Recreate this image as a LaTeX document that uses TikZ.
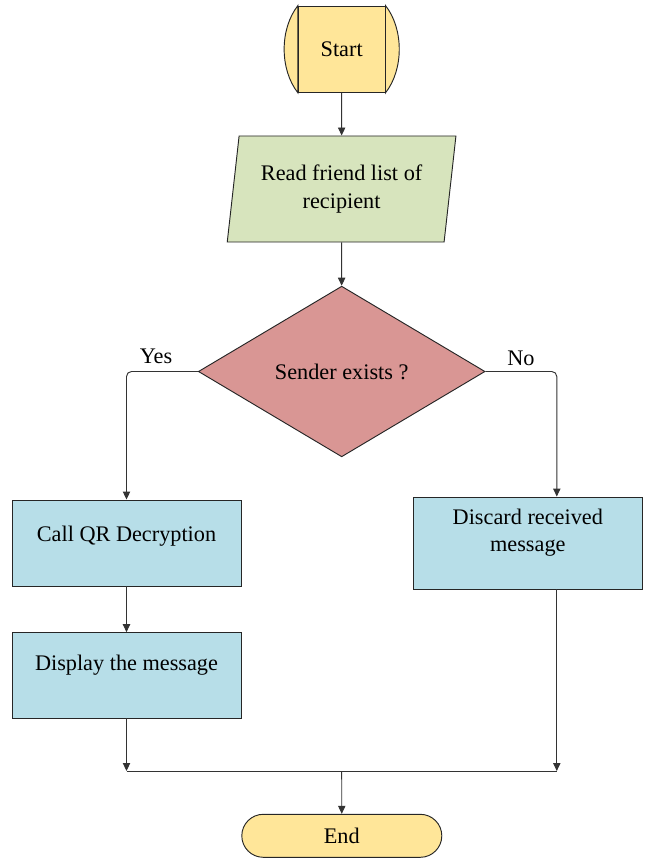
\documentclass[tikz,border=0pt]{standalone}
\usepackage{fontspec}
\setmainfont{Liberation Serif}
\usetikzlibrary{shapes.geometric,arrows.meta}

\definecolor{termyellow}{HTML}{FFE699}
\definecolor{inputgreen}{HTML}{D7E4BD}
\definecolor{decisionred}{HTML}{D99694}
\definecolor{processblue}{HTML}{B7DEE8}

\tikzset{
  shapeline/.style={draw=black!85, line width=0.8pt},
  flow/.style={draw=black!80, line width=0.8pt, -{Triangle[width=2.2mm,length=2.4mm]}},
  termbox/.style={shapeline, fill=termyellow, inner sep=0pt},
  inputbox/.style={shapeline, fill=inputgreen, trapezium, trapezium left angle=79,
    trapezium right angle=101, trapezium stretches=true, align=center,
    minimum width=68.7mm, minimum height=31.8mm, inner sep=0pt},
  decisionbox/.style={shapeline, fill=decisionred, diamond, inner sep=0pt,
    minimum width=86mm, minimum height=51.2mm},
  processbox/.style={shapeline, fill=processblue, minimum width=68.7mm, inner sep=0pt}
}

\begin{document}
\begin{tikzpicture}[x=0.3mm, y=-0.3mm, font=\fontsize{19pt}{23.5pt}\selectfont]
\useasboundingbox (0,0) rectangle (645,859);

% terminals and boxes
\node[termbox, minimum width=26mm, minimum height=25.9mm] (start) at (341.7,49.2) {Start};
\draw[termbox] (start.north west) .. controls +(-5.5mm,-7mm) and +(-5.5mm,7mm) .. (start.south west) -- cycle;
\draw[termbox] (start.north east) .. controls +(5.5mm,-7mm) and +(5.5mm,7mm) .. (start.south east) -- cycle;
\node[inputbox] (read) at (341.6,189) {Read friend list of\\recipient};
\node[decisionbox] (dec) at (341.7,371.5) {Sender exists ?};
\node[processbox, minimum height=25.8mm, text height=0pt, text depth=0.7mm] (call) at (126.5,543) {Call QR Decryption};
\node[processbox, minimum height=25.6mm, text height=0pt, text depth=3mm] (disp) at (126.5,675.3) {Display the message};
\node[processbox, minimum height=27.6mm, align=center, text height=5.2mm, text depth=0pt] (disc) at (527.8,543) {Discard received\\message};
\node[termbox, minimum width=60mm, minimum height=12.9mm, rounded corners=6.45mm] (stop) at (341.8,835.8) {End};

% branch labels
\node[anchor=base] (yes) at (156,363.3) {Yes};
\node[anchor=base] (no) at (521,365) {No};

% connectors
\coordinate (merge) at (341.7,771);
\draw[flow] (start) -- (read);
\draw[flow] (read) -- (dec);
\draw[flow, rounded corners=1.5mm] (dec.west) -| (call.north);
\draw[flow, rounded corners=1.5mm] (dec.east) -| ([xshift=8.7mm]disc.north);
\draw[flow] (call) -- (disp);
\draw[flow] (disp.south) -- (disp |- merge);
\draw[flow] ([xshift=8.7mm]disc.south) -- ([xshift=8.7mm]disc.south |- merge);
\draw[shapeline, draw=black!80] (disp |- merge) -- ([xshift=8.7mm]disc.south |- merge);
\draw[flow] (merge) -- (stop);

\end{tikzpicture}
\end{document}
